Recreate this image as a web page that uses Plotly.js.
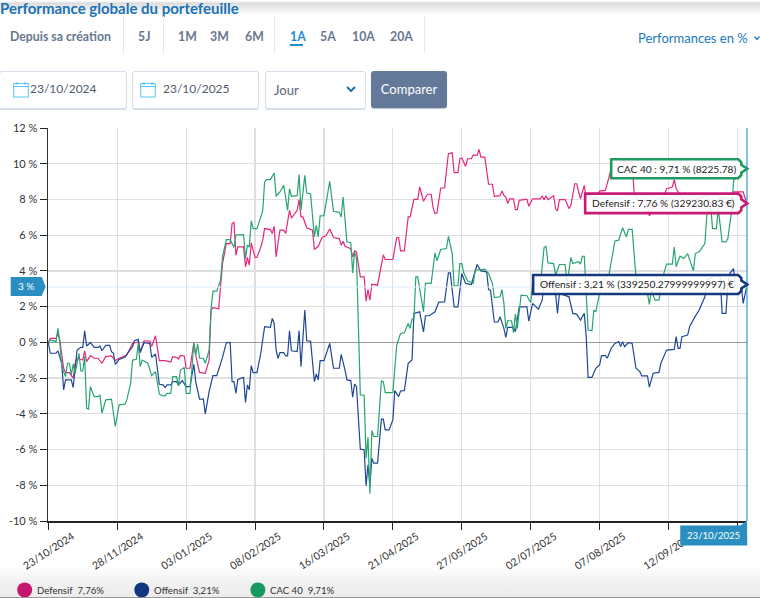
<!DOCTYPE html>
<html lang="fr"><head><meta charset="utf-8">
<script src="https://cdn.plot.ly/plotly-3.0.1.min.js"></script>
<style>
html,body{margin:0;padding:0;background:#fff;width:760px;height:598px;overflow:hidden;font-family:Lato,"Open Sans",sans-serif}
#chart{position:absolute;left:0;top:0;width:760px;height:598px}
.abs{position:absolute;white-space:nowrap}
.tab{top:30px;font-size:12.3px;font-weight:700;color:#67778f;line-height:14px}
.sep{top:16px;height:37px;width:0;border-left:1px dotted #c8d2de}
.inp{top:71px;height:36px;border:1px solid #d5dfea;border-bottom:2px solid #d5dfea;border-radius:3px;box-sizing:content-box;background:#fff;font-size:13px;color:#5a6675;line-height:36px}
.shade{left:0;width:760px}
</style></head><body>
<div class="abs shade" style="top:566px;height:32px;background:linear-gradient(#fff 0,#f1f1f1 16px,#ececec 31px,#444 32px)"></div>
<div id="chart"></div>
<div class="abs shade" style="top:0;height:16px;background:linear-gradient(#fff 0,#fff 1px,#dcdcdc 3px,#fff 15px)"></div>
<div class="abs" style="left:0;top:1px;font-size:15px;font-weight:700;color:#1b72b5;line-height:15px">Performance globale du portefeuille</div>
<div class="abs tab" style="left:10px">Depuis sa création</div>
<div class="abs tab" style="left:138px">5J</div>
<div class="abs tab" style="left:178px">1M</div>
<div class="abs tab" style="left:210px">3M</div>
<div class="abs tab" style="left:245px">6M</div>
<div class="abs tab" style="left:290px;color:#1b8fd0">1A</div>
<div class="abs" style="left:290px;top:44px;width:13px;height:2px;background:#1b8fd0"></div>
<div class="abs tab" style="left:320px">5A</div>
<div class="abs tab" style="left:352px">10A</div>
<div class="abs tab" style="left:390px">20A</div>
<div class="abs sep" style="left:123px"></div>
<div class="abs sep" style="left:163px"></div>
<div class="abs sep" style="left:274px"></div>
<div class="abs sep" style="left:424px"></div>
<div class="abs" style="left:638px;top:30px;font-size:13px;color:#1b79bd;line-height:16px">Performances en %</div>
<svg class="abs" style="left:754px;top:36px" width="6" height="5"><path d="M0.5 0.5 L3 3.5 L5.5 0.5" fill="none" stroke="#1b79bd" stroke-width="1.3"/></svg>
<div class="abs inp" style="left:-1px;width:126px"></div>
<div class="abs inp" style="left:132px;width:125px"></div>
<div class="abs inp" style="left:265px;width:99px"></div>
<div class="abs" style="left:30px;top:81px;font-size:12px;color:#4f5b6b;line-height:16px">23/10/2024</div>
<div class="abs" style="left:163px;top:81px;font-size:12px;color:#4f5b6b;line-height:16px">23/10/2025</div>
<div class="abs" style="left:274px;top:82px;font-size:13px;color:#5a6675;line-height:16px">Jour</div>
<svg class="abs" style="left:13px;top:81px" width="17" height="17"><rect x="0.7" y="2.5" width="14.6" height="13.5" fill="none" stroke="#55c3ee" stroke-width="1"/><path d="M0.7 5.5H15.3" stroke="#55c3ee"/><path d="M4 1V4M12 1V4" stroke="#55c3ee"/></svg>
<svg class="abs" style="left:140px;top:81px" width="17" height="17"><rect x="0.7" y="2.5" width="14.6" height="13.5" fill="none" stroke="#55c3ee" stroke-width="1"/><path d="M0.7 5.5H15.3" stroke="#55c3ee"/><path d="M4 1V4M12 1V4" stroke="#55c3ee"/></svg>
<svg class="abs" style="left:346px;top:86px" width="10" height="7"><path d="M1 1 L5 5 L9 1" fill="none" stroke="#1769a8" stroke-width="1.8"/></svg>
<div class="abs" style="left:371px;top:71px;width:76px;height:37px;background:#64789a;border-radius:3px;color:#fff;font-size:13px;line-height:37px;text-align:center;box-shadow:0 1px 1px #b9c3d0">Comparer</div>
<script>
var startDate = [2024, 9, 23];
var tickDays = [0, 36, 72, 108, 144, 180, 216, 252, 288, 324, 360];
var tickLabels = ['23/10/2024','28/11/2024','03/01/2025','08/02/2025','16/03/2025','21/04/2025','27/05/2025','02/07/2025','07/08/2025','12/09/2025',''];
var yTicks = [-10,-8,-6,-4,-2,0,2,4,6,8,10,12];
var seriesNames = ['Defensif','Offensif','CAC 40'];

var defensifDays = [0,1,4,5,6,8,9,11,13,14,15,18,19,20,22,24,26,28,30,33,35,37,41,44,47,48,50,53,54,56,58,61,64,65,67,68,69,71,72,74,76,77,79,82,84,85,86,89,91,93,95,96,97,98,99,102,103,104,105,106,108,109,111,112,113,116,117,118,119,121,123,124,126,127,130,131,132,133,135,138,139,141,143,145,147,149,152,153,154,155,158,159,160,161,163,165,166,167,168,169,172,175,176,178,180,182,183,184,186,188,189,191,193,194,196,198,200,201,202,203,205,207,209,211,212,214,215,216,218,219,221,222,224,225,226,228,230,232,233,236,237,238,239,240,241,243,244,245,246,250,251,253,257,258,259,260,261,264,265,266,267,270,272,273,275,276,278,280,281,282,285,288,291,293,295,298,300,303,305,306,308,312,314,316,320,323,326,327,328,332,337,344,347,351,356,358,363,365];
var defensifValues = [0,.22,.22,.5,.13,-1.45,-1.69,-1.69,-2.01,-1.17,-.89,-.99,-.48,-1.08,-.74,-.89,-.89,-1.17,-.8,-.76,-1.02,-.89,-.71,-.06,.04,-.52,.09,.07,-.24,.37,-1.02,-1.02,-1.1,-.8,-.84,-.93,-.73,-.76,-1.45,-1.45,-.02,-.71,-1.68,-1.73,-.99,1.81,1.94,1.88,4.41,5.53,5.53,6.65,6.72,4.88,5.34,5.34,4.23,4.75,4.32,5.57,4.75,4.75,5.34,5.72,6.37,6.31,6.09,6.5,4.79,6.28,6.28,6.09,7.39,6.96,7.39,7.99,7.02,7.02,6.42,6.28,5.2,5.38,5.87,5.96,6.35,5.87,5.81,5.44,5.66,5.38,5.25,4.79,5.12,5.07,3.67,3.67,2.31,2.96,2.36,3.26,3.2,4.9,4.64,4.64,4.64,5.87,5.87,5.12,5.12,7.02,7.02,8.01,8.01,8.7,7.9,8.29,8.29,7.54,7.21,7.24,8.64,8.64,10.56,10.61,9.5,9.5,10.28,10.32,9.85,10.28,10.28,10.5,10.47,10.8,10.37,10.37,8.85,8.85,8.18,8.21,8.47,8.23,8.14,7.77,8.03,8.03,7.43,7.43,7.95,8.01,7.62,8.03,8.03,8.18,7.99,8.21,7.99,8.21,7.49,7.36,7.99,7.99,7.49,7.67,8.88,8.88,8.04,8.79,8.04,8.23,7.95,8.47,8.51,9.29,10.09,10.0,10.19,10.09,10.09,8.42,7.95,7.95,7.08,7.54,7.77,8.6,8.7,9.11,8.6,7.95,7.95,8.23,7.58,8.14,7.58,8.42,8.42,7.76];

var offensifDays = [0,1,4,5,7,8,9,12,13,14,15,17,18,19,20,22,24,26,27,28,30,32,33,34,35,37,40,42,44,45,47,48,50,53,54,56,58,60,61,62,64,65,67,68,70,72,74,76,77,79,81,82,84,86,88,91,93,95,96,97,98,99,102,103,104,105,106,107,109,111,113,116,117,118,119,120,121,123,124,125,126,127,130,131,132,134,135,137,139,140,141,142,144,147,149,152,153,155,156,158,159,160,161,163,165,166,167,168,169,170,172,174,175,176,178,180,181,183,184,186,188,190,191,194,196,197,199,202,204,207,209,210,212,214,216,218,221,224,226,229,230,231,233,235,236,238,239,240,243,244,246,250,251,253,256,258,259,261,264,265,266,267,272,274,276,278,280,281,282,284,286,288,289,291,292,294,296,298,299,300,301,303,305,307,309,310,313,314,316,319,320,323,327,328,329,330,331,334,335,338,340,343,344,349,351,352,354,355,356,358,359,362,363,365];
var offensifValues = [0,-.61,-.61,-.47,-1.17,-2.66,-2.1,-2.1,-2.53,-1.55,-.43,-.28,-.28,.65,-.2,-.02,-.28,-.28,-.2,-.47,-.17,-.17,-.52,-.61,-1.23,-.95,-.84,-.52,-.24,.09,.17,-.58,-.02,-.06,-.84,-.65,-2.35,-2.38,-2.53,-2.38,-2.38,-2.2,-2.2,-2.38,-2.14,-2.48,-2.48,-1.23,-2.2,-3.18,-3.18,-4,-2.76,-1.86,-1.86,-.84,-.02,0,-2.2,-2.2,-2.85,-2.07,-1.96,-3.37,-2.38,-2.66,-1.3,-1.69,-1.69,-.61,.88,.84,1.34,1.06,-.43,-.89,-.58,-.58,-.76,-.76,.65,-.47,-.52,.65,-1.36,1.81,.09,.07,-2.2,-1.77,-2.1,-1.02,-1.02,-.06,-1.45,-1.45,-.67,-1.55,-2.1,-2.14,-3.07,-2.33,-2.48,-5.98,-6.01,-8.03,-6.85,-8.03,-6.48,-6.76,-6.76,-4.3,-4.3,-4.9,-4.9,-4.34,-2.7,-3.04,-2.72,-2.7,-1.17,-.99,1.62,1.71,.58,1.49,1.49,1.71,2.25,2.27,3.89,3.89,1.99,1.99,3.85,3.3,3.24,4.36,4,3.95,2.96,2.92,1.14,1.14,1.43,.78,.28,.84,.84,.6,1.99,1.99,1.19,2.18,1.86,2.36,3.3,3.2,3.11,2.74,1.62,2.74,2.55,1.62,1.58,1.25,1.62,.32,-1.96,-1.96,-1.45,-1.27,-.74,-.74,-.89,-.34,-.06,.04,-.24,.04,-.24,-.02,-.06,-1.45,-1.64,-1.88,-1.88,-2.51,-1.73,-1.68,-1.17,-.43,-.39,.32,-.34,-.34,.32,.41,.88,1.47,1.81,2.55,3.48,3.76,3.67,1.62,1.62,3.3,3.85,4.13,3.11,3.2,2.18,3.21];

var cacDays = [0,1,4,5,6,7,9,10,11,12,13,14,16,17,18,19,20,21,22,24,26,27,28,30,33,35,37,40,41,43,44,46,47,48,49,52,54,56,58,60,61,62,64,65,67,68,69,71,72,74,76,77,78,79,81,82,84,85,86,88,90,91,93,95,97,98,102,103,104,105,106,107,109,111,112,113,114,116,118,119,121,123,124,125,126,127,130,131,132,134,135,137,139,140,141,142,144,147,149,152,153,154,156,158,159,160,161,162,163,165,166,167,168,169,170,172,174,175,176,178,180,182,184,186,188,189,190,191,192,193,196,197,200,202,203,205,208,209,211,212,214,215,216,217,219,222,223,228,230,232,233,236,237,238,239,240,242,243,244,245,247,250,252,253,257,259,260,261,264,265,267,270,271,273,274,277,278,279,280,282,284,285,286,288,290,293,296,298,300,302,303,305,307,308,311,313,314,315,317,319,321,323,326,327,328,330,332,334,336,337,338,340,343,344,346,347,349,350,352,354,355,357,358,360,363,365];
var cacValues = [0,.13,.04,.78,.04,-1.36,-1.92,-1.17,-1.17,-1.82,-1.21,-1.73,-.61,-1.6,-1.6,-.8,-3.69,-3.74,-2.48,-3.04,-3.04,-2.94,-3.97,-3.22,-3.18,-4.71,-3.5,-3.46,-3.22,-2.29,-.99,-.95,-.06,-1.36,-.99,-1.17,-1.86,-1.64,-2.89,-3,-3,-2.85,-2.85,-1.92,-1.92,-2.44,-1.55,-1.4,-2.85,-2.85,-.06,-.71,-.09,-.89,-.89,-1.17,-.43,1.81,2.87,2.87,3.48,4.79,5.75,5.75,5.31,6,6.03,4.69,5.44,5.34,6.8,6.37,6.37,7.02,7.36,8.98,9.11,9.11,9.48,8.18,8.42,8.79,8.04,7.39,8.6,8.18,8.21,9.39,7.39,9.35,8.36,8.32,5.9,6.55,5.9,7.08,7.09,9.01,7.34,7.28,7.02,8.14,5.62,5.59,3.89,5.07,4.69,.5,-2.94,-2.96,-6.48,-5.31,-8.47,-4.93,-5.27,-5.27,-2.16,-2.2,-2.81,-2.81,-2.81,-.15,.5,.54,1.06,.78,1.3,1.34,3.67,3.67,1.71,3.3,3.3,5.01,4.56,5.2,5.25,5.94,4.97,3.17,3.17,4.41,4.41,3.89,3.45,3.3,4.04,4.1,3.85,3.3,2.51,2.55,2.96,2.18,.78,1.21,1.21,.54,1.58,.78,2.64,2.61,2.22,3.3,3.2,5.31,5.38,4.45,4.41,3.76,4.36,4.36,3.3,4.75,4.41,4.51,4.38,4.82,4.82,.69,.65,1.81,1.71,2.74,3.48,3.85,5.68,5.72,6.42,5.9,6.33,6.33,3.67,3.3,3.3,2.74,2.12,2.92,2.36,2.36,3.67,4.38,4.38,5.34,4.23,4.82,4.69,4.97,4.23,4,4.97,5.07,5.53,7.11,7.67,6.37,6.37,7.49,5.62,5.62,5.81,7.39,9.07,9.25,9.63,9.71];

var tipLabels = ['CAC 40 : 9,71 % (8225.78)','Defensif : 7,76 % (329230.83 €)','Offensif : 3,21 % (339250.27999999997) €'];
var legendLabels = ['Defensif  7,76%','Offensif  3,21%','CAC 40  9,71%'];
var markerValue = 3.1;

function iso(d){return new Date(Date.UTC(startDate[0],startDate[1],startDate[2]+d)).toISOString().slice(0,10);}
var L=48.3,R=746.7,T=127.7,B=521.5;
function px(v){return (v-L)/(R-L);}
function py(v){return (B-v)/(B-T);}
function P(pts){return 'M'+pts.map(function(p){return px(p[0])+' '+py(p[1]);}).join(' L')+' Z';}
function line(days,vals,name,color){return {x:days.map(iso),y:vals,name:name,mode:'lines',type:'scatter',line:{color:color,width:1.2},hoverinfo:'skip'};}
var data=[line(defensifDays,defensifValues,seriesNames[0],'#e2297f'),line(offensifDays,offensifValues,seriesNames[1],'#1f4796'),line(cacDays,cacValues,seriesNames[2],'#27a56f')];

function tip(l,t,b,c){var r=741,m=(t+b)/2;return {type:'path',xref:'paper',yref:'paper',layer:'above',path:P([[l,t],[r-3,t],[r,t+3],[r,m-4],[r+6,m],[r,m+4],[r,b-3],[r-3,b],[l,b]]),fillcolor:'rgba(255,255,255,0.88)',line:{color:c,width:2.6}};}
var shapes=[
 {type:'line',xref:'paper',x0:0,x1:1,yref:'y',y0:markerValue,y1:markerValue,line:{color:'#dcecf6',width:1},layer:'above'},
 {type:'line',xref:'paper',x0:1,x1:1,yref:'paper',y0:0,y1:1,line:{color:'#3aa3d9',width:1.3},layer:'above'},
 {type:'path',xref:'paper',yref:'paper',layer:'above',path:P([[11,277],[42,277],[46,286.5],[42,296],[11,296]]),fillcolor:'#2a8fc0',line:{width:0}},
 {type:'path',xref:'paper',yref:'paper',layer:'above',path:P([[680,526],[740,526],[746.7,521],[747,546],[680,546]]),fillcolor:'#2a8fc0',line:{width:0}},
 tip(611,159,178,'#1f9a62'),tip(585,193.5,213,'#c91a74'),tip(533,275,294,'#15397f')
];
var lg=[[25,'#c5176f'],[142,'#12367f'],[258,'#169a60']];
lg.forEach(function(g){shapes.push({type:'circle',xref:'paper',yref:'paper',layer:'above',x0:px(g[0]-7.5),x1:px(g[0]+7.5),y0:py(598),y1:py(583),fillcolor:g[1],line:{width:0}});});
function note(text,x,y,size,color,anchor){return {text:text,xref:'paper',yref:'paper',x:px(x),y:py(y),showarrow:false,xanchor:anchor||'center',yanchor:'middle',font:{family:'Lato, sans-serif',size:size,color:color},borderpad:0,borderwidth:0};}
var annotations=[
 note(tipLabels[0],677,168.5,10.2,'#222'),
 note(tipLabels[1],663,203.3,10.2,'#222'),
 note(tipLabels[2],637,284.5,10.2,'#222'),
 note('3 %',26.5,286.5,10,'#fff'),
 note('23/10/2025',713.5,536,9.6,'#fff'),
 note(legendLabels[0],37,591,9.6,'#333','left'),
 note(legendLabels[1],154,591,9.6,'#333','left'),
 note(legendLabels[2],270,591,9.6,'#333','left')
];
var layout={width:760,height:598,margin:{l:L,r:760-R,t:T,b:598-B,pad:0},paper_bgcolor:'rgba(0,0,0,0)',plot_bgcolor:'rgba(0,0,0,0)',showlegend:false,
 font:{family:'Lato, sans-serif',size:11,color:'#333'},
 xaxis:{type:'date',range:['2024-10-22 20:00',iso(365)],tickmode:'array',tickvals:tickDays.map(iso),ticktext:tickLabels,tickangle:-33,ticks:'outside',ticklen:7,tickcolor:'#222',tickwidth:1,showgrid:true,gridcolor:'#dfdfdf',gridwidth:1.2,showline:true,linecolor:'#222',linewidth:1.5,zeroline:false,automargin:false,fixedrange:true,tickfont:{size:10.5,color:'#333'},ticklabelstandoff:-3,ticklabelshift:24,ticklabeloverflow:'allow'},
 yaxis:{range:[-10,12],tickmode:'array',tickvals:yTicks,ticktext:yTicks.map(function(v){return v+' %';}),ticks:'outside',ticklen:7,tickcolor:'#222',tickwidth:1,showgrid:true,gridcolor:'#dfdfdf',gridwidth:1.2,showline:true,linecolor:'#333',linewidth:1.5,zeroline:true,zerolinecolor:'#999',zerolinewidth:1.2,automargin:false,fixedrange:true,tickfont:{size:11,color:'#333'}},
 shapes:shapes,annotations:annotations};
Plotly.newPlot('chart',data,layout,{displayModeBar:false,staticPlot:true});
</script>
</body></html>
